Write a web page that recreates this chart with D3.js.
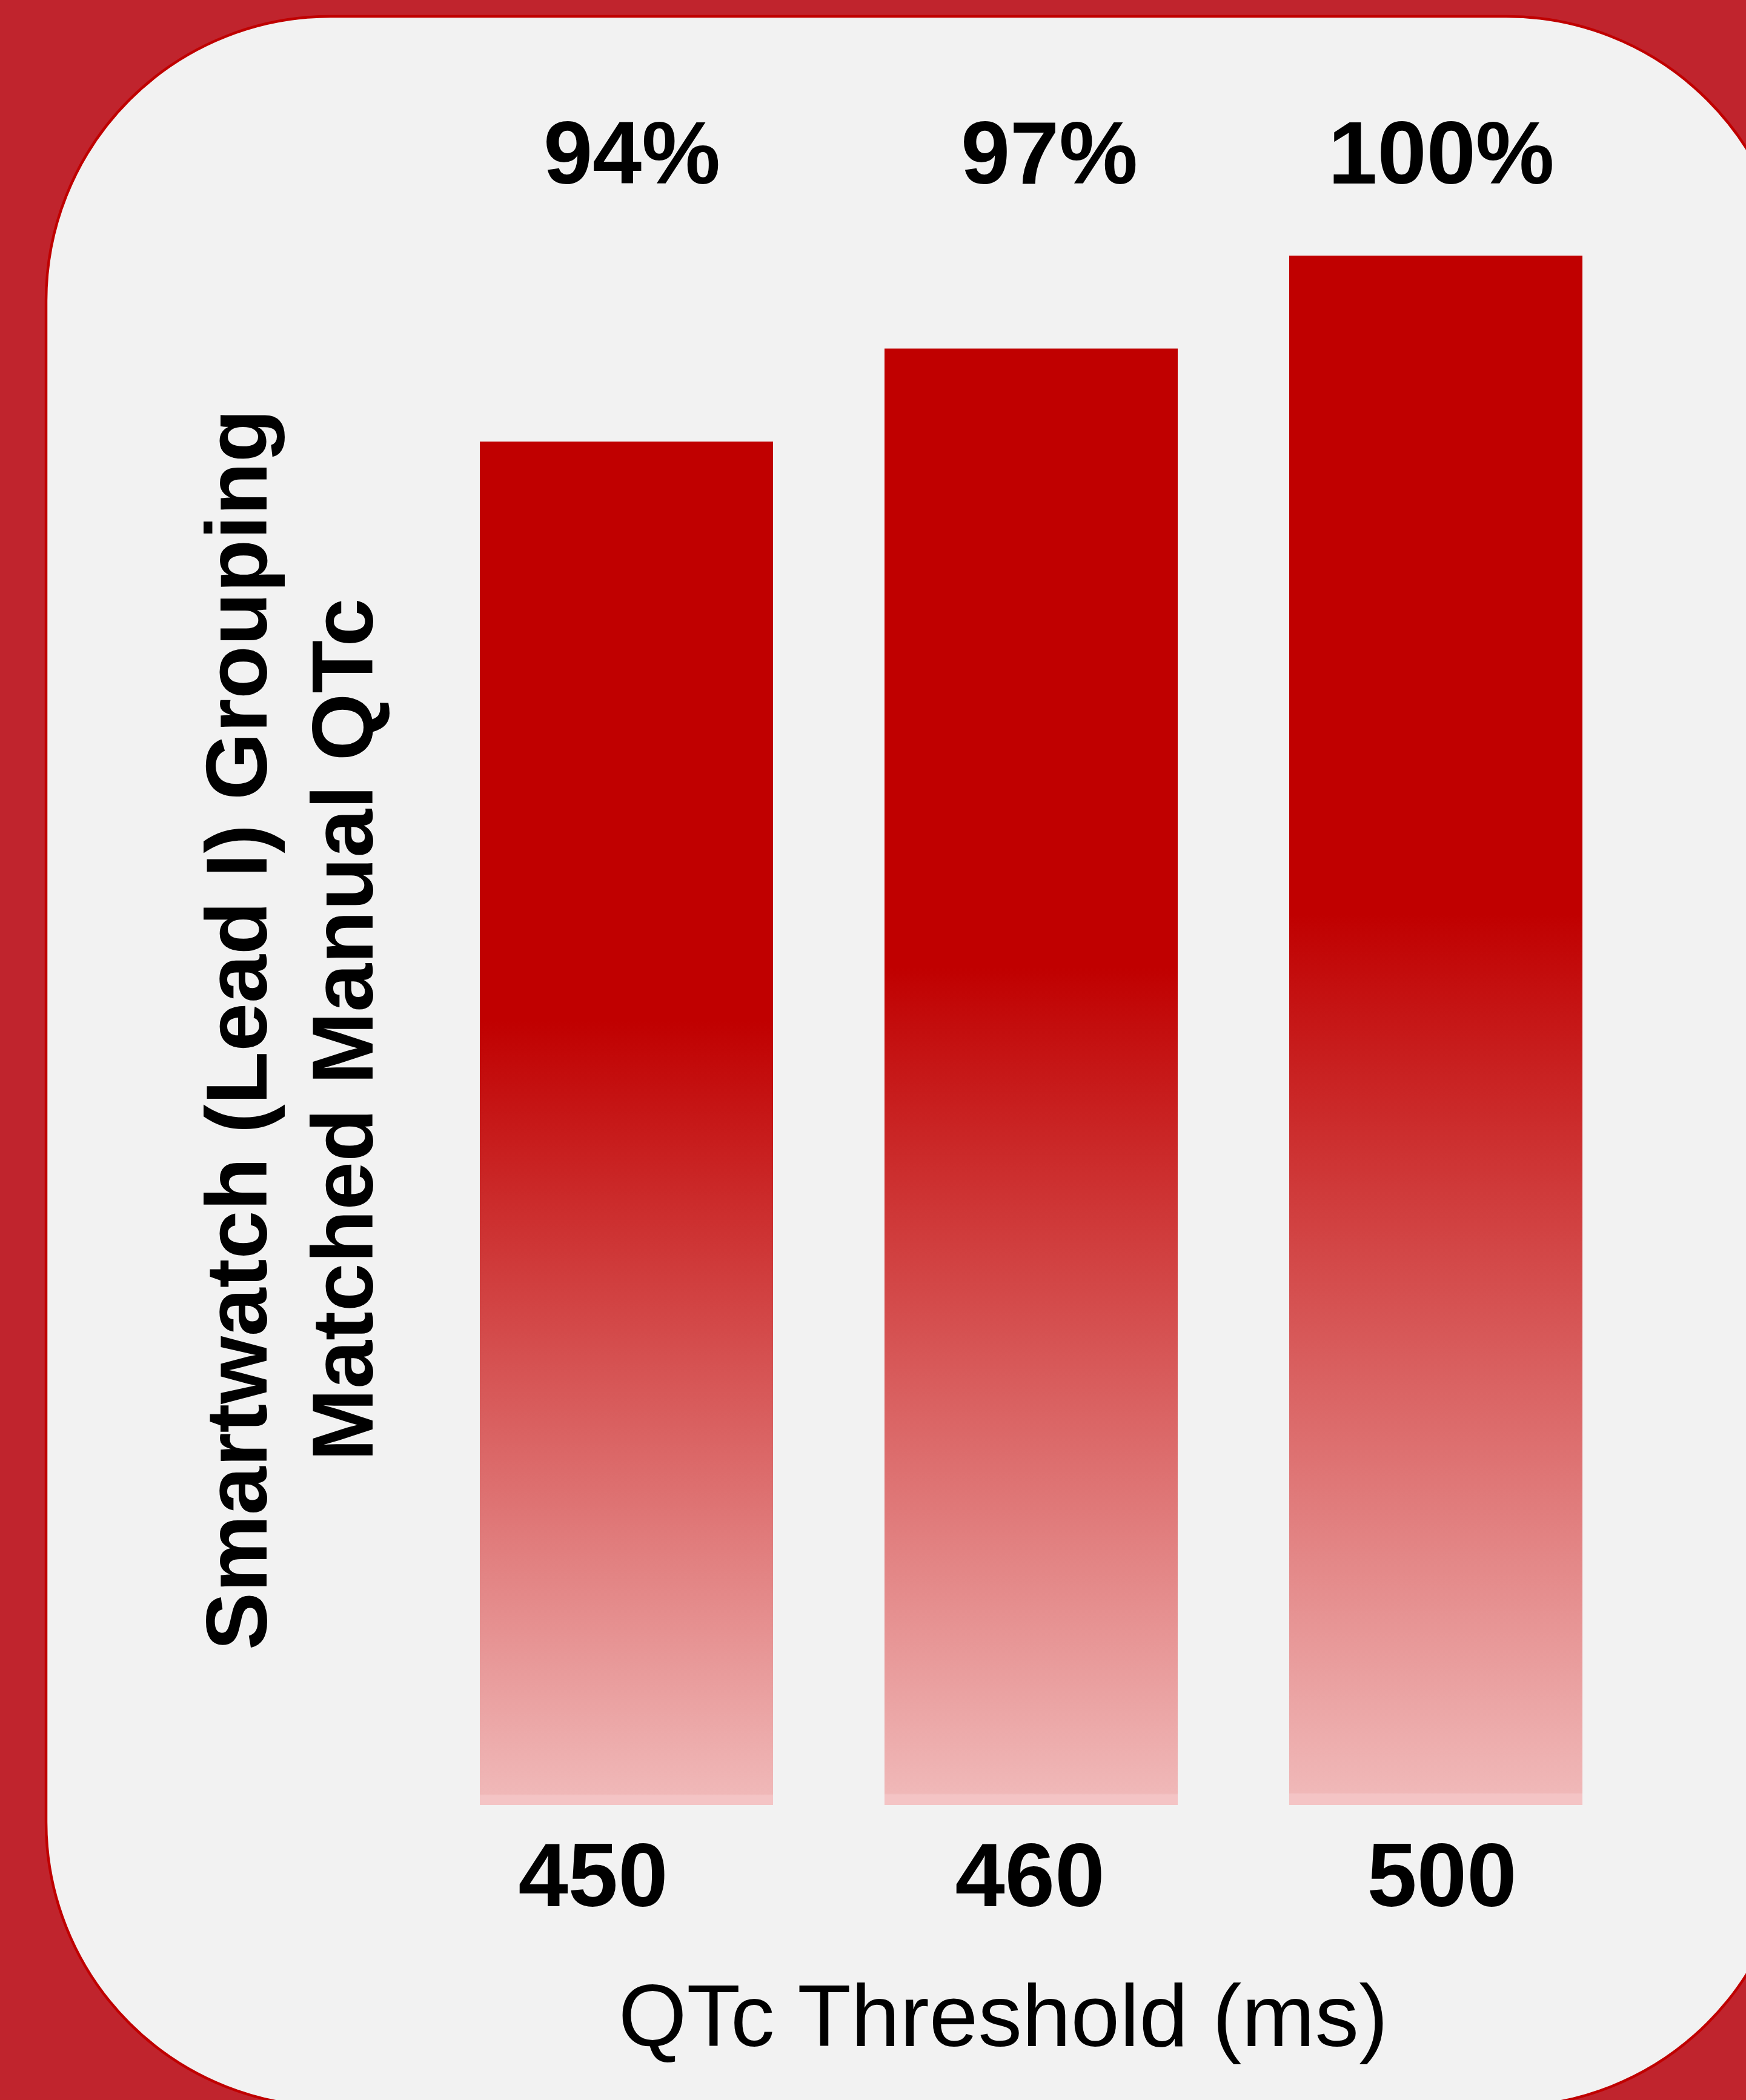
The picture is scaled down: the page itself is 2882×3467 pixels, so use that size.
<!DOCTYPE html>
<html>
<head>
<meta charset="utf-8">
<script src="https://cdn.jsdelivr.net/npm/d3@7"></script>
<style>
  html, body { margin: 0; padding: 0; background: #C0242D; }
  svg { display: block; }
</style>
</head>
<body>
<svg id="chart" width="2882" height="3467"></svg>
<script>
// ---- data ----
const categories = ["450", "460", "500"];
const values = [94, 97, 100];
const valueLabels = ["94%", "97%", "100%"];
const yTitleLines = ["Smartwatch (Lead I) Grouping", "Matched Manual QTc"];
const xTitle = "QTc Threshold (ms)";

// ---- layout / style ----
const W = 2882, H = 3467;
const FONT = "'Liberation Sans', Arial, Helvetica, sans-serif";
const labelNudge = [9, 30, 9];     // value labels horizontal fine-tuning
const tickNudge = [-55, -2, 10];   // category labels horizontal fine-tuning

const svg = d3.select("#chart");

// background
svg.append("rect").attr("x", 0).attr("y", 0).attr("width", W).attr("height", H)
  .attr("fill", "#C0242D");

// rounded panel
svg.append("rect")
  .attr("x", 76).attr("y", 27)
  .attr("width", 2880).attr("height", 3451)
  .attr("rx", 470).attr("ry", 470)
  .attr("fill", "#F2F2F2")
  .attr("stroke", "#C00000")
  .attr("stroke-width", 4.5);

// gradient (per bar)
const defs = svg.append("defs");
const grad = defs.append("linearGradient")
  .attr("id", "barGrad")
  .attr("x1", 0).attr("y1", 0).attr("x2", 0).attr("y2", 1);
grad.append("stop").attr("offset", "0%").attr("stop-color", "#C00000");
grad.append("stop").attr("offset", "42.5%").attr("stop-color", "#C00000");
grad.append("stop").attr("offset", "99.2%").attr("stop-color", "#F0B8B8");
grad.append("stop").attr("offset", "99.3%").attr("stop-color", "#F4C4C5");
grad.append("stop").attr("offset", "100%").attr("stop-color", "#F4C4C5");

// scales
const x = d3.scaleBand()
  .domain(categories)
  .range([792, 2612])
  .paddingInner(0.2754)
  .paddingOuter(0);

const y = d3.scaleLinear()
  .domain([50, 100])
  .range([2980, 422]);

// bars
svg.append("g").selectAll("rect")
  .data(categories)
  .join("rect")
  .attr("x", d => x(d))
  .attr("y", (d, i) => y(values[i]))
  .attr("width", x.bandwidth())
  .attr("height", (d, i) => y(50) - y(values[i]))
  .attr("fill", "url(#barGrad)");

// value labels (at fixed top row)
svg.append("g").selectAll("text")
  .data(categories)
  .join("text")
  .attr("x", (d, i) => x(d) + x.bandwidth() / 2 + labelNudge[i])
  .attr("y", 303)
  .attr("text-anchor", "middle")
  .attr("font-family", FONT)
  .attr("font-weight", "bold")
  .attr("font-size", 146)
  .attr("fill", "#000")
  .text((d, i) => valueLabels[i]);

// x axis (labels only)
const xAxis = d3.axisBottom(x).tickSize(0).tickPadding(0);
const gx = svg.append("g")
  .attr("transform", `translate(0, ${y(50)})`)
  .call(xAxis);
gx.select(".domain").remove();
gx.selectAll(".tick text")
  .attr("font-family", FONT)
  .attr("font-weight", "bold")
  .attr("font-size", 148)
  .attr("fill", "#000")
  .attr("dy", null)
  .attr("y", 3147 - y(50))
  .attr("dx", (d, i) => tickNudge[i]);

// x title
svg.append("text")
  .attr("x", 1656)
  .attr("y", 3378)
  .attr("text-anchor", "middle")
  .attr("font-family", FONT)
  .attr("font-size", 145)
  .attr("fill", "#000")
  .text(xTitle);

// y title (two lines, rotated)
const yt = svg.append("text")
  .attr("transform", "translate(440, 1700) rotate(-90)")
  .attr("text-anchor", "middle")
  .attr("font-family", FONT)
  .attr("font-weight", "bold")
  .attr("font-size", 143.5)
  .attr("fill", "#000");
yTitleLines.forEach((line, i) => {
  yt.append("tspan")
    .attr("x", 0)
    .attr("y", i * 175)
    .text(line);
});
</script>
</body>
</html>
